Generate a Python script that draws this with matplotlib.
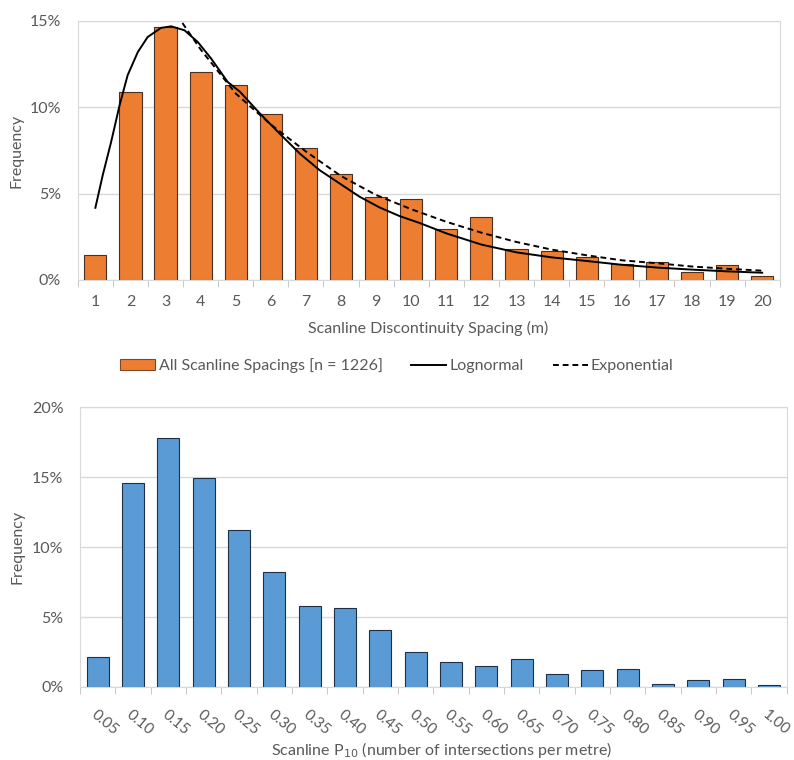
import numpy as np
import matplotlib.pyplot as plt
from matplotlib.patches import Patch
from matplotlib.lines import Line2D
from matplotlib.ticker import FuncFormatter, MultipleLocator

plt.rcParams['font.family'] = ['Lato', 'DejaVu Sans']

# spacing histogram (percent of all spacings)
spacing_bins = list(range(1, 21))
spacing_freq = [1.43, 10.87, 14.65, 12.03, 11.30, 9.64, 7.65, 6.15, 4.82, 4.68,
                2.93, 3.64, 1.79, 1.66, 1.31, 0.94, 1.06, 0.44, 0.85, 0.23]

# fitted curves, read at spacing positions
logn_x = [1, 1.21, 1.45, 1.69, 1.92, 2.21, 2.49, 2.87, 3.16, 3.54, 3.92, 4.3,
          4.77, 5.12, 5.69, 6.25, 6.82, 7.39, 7.96, 8.53, 9.1, 9.67, 10.24,
          11, 12, 13, 14, 15, 16, 17, 18, 19, 20]
logn_y = [4.18, 6.07, 8.0, 10.12, 11.86, 13.2, 14.07, 14.6, 14.69, 14.46, 13.78,
          12.82, 11.47, 10.9, 9.64, 8.48, 7.33, 6.36, 5.59, 4.82, 4.2, 3.7,
          3.3, 2.7, 2.05, 1.6, 1.31, 1.1, 0.88, 0.72, 0.6, 0.5, 0.42]
expo_x = [3, 4, 5, 6, 7, 8, 9, 10, 11, 12, 13, 14, 15, 16, 17, 18, 19, 20]
expo_y = [16.3, 13.35, 10.8, 9.0, 7.44, 6.02, 4.92, 4.1, 3.37, 2.74, 2.2, 1.76,
          1.43, 1.14, 0.97, 0.78, 0.65, 0.54]

# P10 histogram
p10_labels = ['0.05', '0.10', '0.15', '0.20', '0.25', '0.30', '0.35', '0.40',
              '0.45', '0.50', '0.55', '0.60', '0.65', '0.70', '0.75', '0.80',
              '0.85', '0.90', '0.95', '1.00']
p10_freq = [2.15, 14.6, 17.82, 14.91, 11.26, 8.21, 5.78, 5.63, 4.1, 2.5,
            1.81, 1.48, 2.03, 0.93, 1.22, 1.29, 0.24, 0.5, 0.55, 0.12]

txt = '#595959'
grid = '#d9d9d9'
orange = '#ed7d31'
blue = '#5b9bd5'
fs = 11.5

fig = plt.figure(figsize=(7.94, 7.6), dpi=100)
ax1 = fig.add_axes([0.098, 0.6316, 0.884, 0.3408])
ax2 = fig.add_axes([0.1008, 0.0961, 0.890, 0.368])


def style(ax, ymax, step):
    ax.set_ylim(0, ymax)
    ax.set_xlim(0.5, 20.5)
    ax.yaxis.set_major_locator(MultipleLocator(step))
    ax.yaxis.set_major_formatter(FuncFormatter(lambda v, p: f'{v:.0f}%'))
    ax.grid(axis='y', color=grid, lw=1)
    ax.set_axisbelow(True)
    for s in ax.spines.values():
        s.set_color(grid)
    ax.tick_params(axis='y', length=0, labelsize=fs, labelcolor=txt, pad=12)
    ax.tick_params(axis='x', which='major', length=0, labelsize=fs,
                   labelcolor=txt)
    ax.set_xticks(np.arange(0.5, 21, 1), minor=True)
    ax.tick_params(axis='x', which='minor', length=5, color='#bfbfbf')
    ax.set_ylabel('Frequency', color=txt, fontsize=fs, va='center')


style(ax1, 15, 5)
ax1.bar(spacing_bins, spacing_freq, width=0.63, color=orange,
        edgecolor='#4a3020', lw=0.8)
ax1.plot(logn_x, logn_y, color='black', lw=1.4)
ax1.plot(expo_x, expo_y, color='black', lw=1.4, ls=(0, (3, 2)))
ax1.set_xticks(spacing_bins)
ax1.tick_params(axis='x', which='major', pad=11)
ax1.set_xlabel('Scanline Discontinuity Spacing (m)', color=txt, fontsize=fs,
               va='center')
ax1.xaxis.set_label_coords(0.4986, -0.189)
ax1.yaxis.set_label_coords(-0.087, 0.5)

style(ax2, 20, 5)
pos = np.arange(1, 21)
ax2.bar(pos, p10_freq, width=0.63, color=blue, edgecolor='#1f2f45', lw=0.8)
ax2.set_xticks(pos)
ax2.set_xticklabels(p10_labels, rotation=-40, ha='left',
                    rotation_mode='anchor', fontsize=11)
ax2.tick_params(axis='x', which='major', pad=15)
ax2.set_xlabel('Scanline P$_{10}$ (number of intersections per metre)',
               color=txt, fontsize=fs, va='center')
ax2.xaxis.set_label_coords(0.511, -0.226)
ax2.yaxis.set_label_coords(-0.089, 0.5)

handles = [Patch(facecolor=orange, edgecolor='#7a4a25', lw=0.8),
           Line2D([], [], color='black', lw=1.4),
           Line2D([], [], color='black', lw=1.4, ls=(0, (3, 2)))]
labels = ['All Scanline Spacings [n = 1226]', 'Lognormal', 'Exponential']
leg = fig.legend(handles, labels, loc='center',
                 bbox_to_anchor=(0.5, 1 - 366 / 760), ncol=3, frameon=False,
                 fontsize=fs, handlelength=2.2, handletextpad=0.2,
                 columnspacing=1.8)
for t in leg.get_texts():
    t.set_color(txt)

fig.savefig('out.png', dpi=100, facecolor='white')
